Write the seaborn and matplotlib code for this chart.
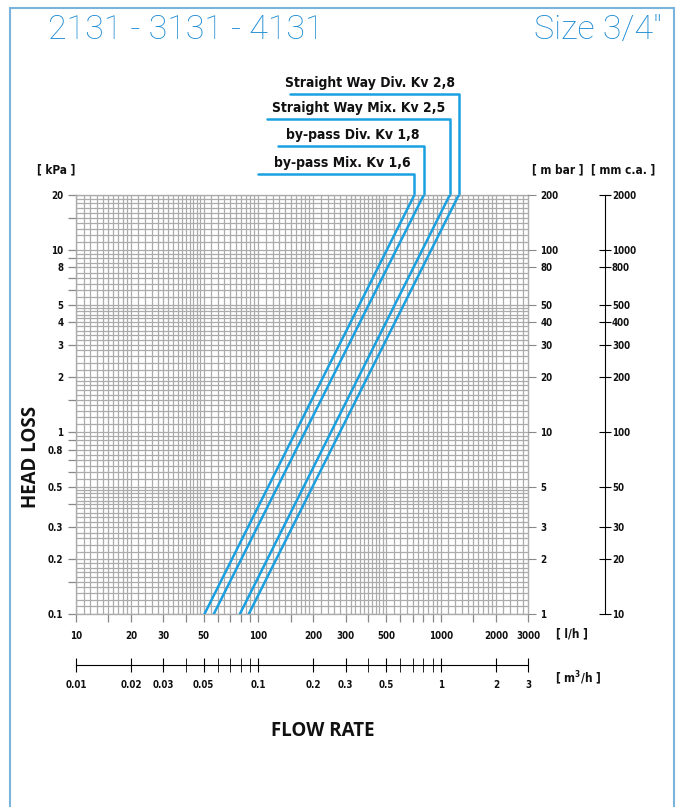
import numpy as np
import pandas as pd
import matplotlib
matplotlib.use("Agg")
import matplotlib.pyplot as plt
import matplotlib.transforms as mtrans
from matplotlib.patches import Rectangle
from matplotlib.ticker import NullFormatter, NullLocator
import seaborn as sns

# data
kv_labels = ["by-pass Mix. Kv 1,6", "by-pass Div. Kv 1,8",
             "Straight Way Mix. Kv 2,5", "Straight Way Div. Kv 2,8"]
flow_low = [50.6, 56.9, 79.1, 88.5]       # l/h at 0.1 kPa
flow_high = [715, 805, 1118, 1252]        # l/h at 20 kPa
head_ends = [0.1, 20]                     # kPa

kpa_ticks = [0.1, 0.2, 0.3, 0.5, 0.8, 1, 2, 3, 4, 5, 8, 10, 20]
kpa_minor = [0.15, 0.4, 0.6, 0.7, 0.9, 1.5, 6, 7, 9, 15]
mbar_ticks = [1, 2, 3, 5, 10, 20, 30, 40, 50, 80, 100, 200]
mmca_ticks = [10, 20, 30, 50, 100, 200, 300, 400, 500, 800, 1000, 2000]
lh_ticks = [10, 20, 30, 50, 100, 200, 300, 500, 1000, 2000, 3000]
lh_minor = [15, 40, 60, 70, 80, 90, 150, 400, 600, 700, 800, 900, 1500]
m3h_ticks = [0.01, 0.02, 0.03, 0.05, 0.1, 0.2, 0.3, 0.5, 1, 2, 3]
m3h_minor = [0.04, 0.06, 0.07, 0.08, 0.09, 0.4, 0.6, 0.7, 0.8, 0.9]

rows = []
for lab, lo, hi in zip(kv_labels, flow_low, flow_high):
    rows.append({"curve": lab, "flow": lo, "head": head_ends[0]})
    rows.append({"curve": lab, "flow": hi, "head": head_ends[1]})
df = pd.DataFrame(rows)

sns.set_style("white")
plt.rcParams["font.family"] = ["DejaVu Sans"]
plt.rcParams["font.stretch"] = "condensed"
plt.rcParams["font.weight"] = "bold"
plt.rcParams["xtick.labelsize"] = 7
plt.rcParams["ytick.labelsize"] = 7
plt.rcParams["xtick.color"] = "#111111"
plt.rcParams["ytick.color"] = "#111111"

BLUE = "#1aa0e0"
TBLUE = "#1b8ad2"
GRID = "#ababab"
W, H = 676, 807

fig = plt.figure(figsize=(W / 100, H / 100), dpi=100)
ax = fig.add_axes([76 / W, 1 - 614 / H, 452 / W, 419 / H])

# dense log paper grid
gx = []
for d in [10, 100, 1000]:
    gx += list(d * np.arange(1, 2, 0.1)) + list(d * np.arange(2, 5, 0.2)) + list(d * np.arange(5, 10, 0.5))
gx = [v for v in gx if 10 <= v <= 3000]
gy = []
for d in [0.1, 1, 10]:
    gy += list(d * np.arange(1, 2, 0.1)) + list(d * np.arange(2, 5, 0.2)) + list(d * np.arange(5, 10, 0.5))
gy = [v for v in gy if 0.1 <= v <= 20]
for v in gx:
    ax.axvline(v, color=GRID, lw=0.9, zorder=1)
for v in gy:
    ax.axhline(v, color=GRID, lw=0.9, zorder=1)

sns.lineplot(data=df, x="flow", y="head", units="curve", estimator=None,
             color=BLUE, lw=1.8, ax=ax, zorder=3, legend=False)

ax.set_xscale("log")
ax.set_yscale("log")
ax.set_xlim(10, 3000)
ax.set_ylim(0.1, 20)
for s in ax.spines.values():
    s.set_color(GRID)
    s.set_linewidth(1)
ax.set_xlabel("")
ax.set_ylabel("")

ax.tick_params(which="both", direction="out", color="#888888", width=0.9, length=6)
ax.tick_params(axis="y", which="major", pad=3)
ax.tick_params(axis="x", which="major", pad=6)
ax.set_xticks(lh_ticks)
ax.set_xticklabels([str(v) for v in lh_ticks])
ax.set_xticks(lh_minor, minor=True)
ax.set_yticks(kpa_ticks)
ax.set_yticklabels([f"{v:g}" for v in kpa_ticks])
ax.set_yticks(kpa_minor, minor=True)
ax.xaxis.set_minor_formatter(NullFormatter())
ax.yaxis.set_minor_formatter(NullFormatter())

# m bar axis (right)
ax2 = ax.twinx()
ax2.set_yscale("log")
ax2.set_ylim(1, 200)
ax2.tick_params(direction="out", length=6, color="#888888", pad=3)
ax2.set_yticks(mbar_ticks)
ax2.set_yticklabels([str(v) for v in mbar_ticks])
ax2.yaxis.set_minor_locator(NullLocator())
for s in ax2.spines.values():
    s.set_visible(False)

# mm c.a. axis
ax3 = ax.twinx()
ax3.set_yscale("log")
ax3.set_ylim(10, 2000)
for k, s in ax3.spines.items():
    s.set_visible(k == "right")
ax3.spines["right"].set_position(("axes", (605 - 76) / 452))
ax3.spines["right"].set_color("black")
ax3.tick_params(direction="inout", length=8, color="black", pad=1)
ax3.set_yticks(mmca_ticks)
ax3.set_yticklabels([str(v) for v in mmca_ticks])
ax3.yaxis.set_minor_locator(NullLocator())

# m3/h axis
ax4 = ax.twiny()
ax4.set_xscale("log")
ax4.set_xlim(0.01, 3)
ax4.xaxis.set_ticks_position("bottom")
ax4.xaxis.set_label_position("bottom")
for k, s in ax4.spines.items():
    s.set_visible(k == "bottom")
ax4.spines["bottom"].set_position(("axes", -(665 - 614) / 419))
ax4.spines["bottom"].set_color("black")
ax4.tick_params(which="both", direction="inout", length=10, color="black", pad=6)
ax4.set_xticks(m3h_ticks)
ax4.set_xticklabels([f"{v:g}" for v in m3h_ticks])
ax4.set_xticks(m3h_minor, minor=True)
ax4.xaxis.set_minor_formatter(NullFormatter())

# curve label connectors
blend = mtrans.blended_transform_factory(ax.transData, ax.transAxes)
label_y = [1.050, 1.117, 1.181, 1.241]
label_left = [99, 128, 111, 149]
for lab, hi, yl, xl in zip(kv_labels, flow_high, label_y, label_left):
    ax.plot([xl, hi, hi], [yl, yl, 1.0], color=BLUE, lw=1.8, transform=blend, clip_on=False)
    ax.annotate(lab, xy=(hi, yl), xycoords=blend, xytext=(-3, 3), textcoords="offset points",
                ha="right", va="bottom", fontsize=10, color="#111111")

def ftext(px, py, s, **kw):
    fig.text(px / W, 1 - py / H, s, **kw)

lab_kw = dict(fontsize=8.5, color="#111111", va="center")
ftext(56, 170, "[ kPa ]", ha="center", **lab_kw)
ftext(558, 170, "[ m bar ]", ha="center", **lab_kw)
ftext(623, 170, "[ mm c.a. ]", ha="center", **lab_kw)
ftext(572, 634, "[ l/h ]", ha="center", **lab_kw)
ftext(578, 678, "[ m$^3$/h ]", ha="center", **lab_kw)

ftext(323, 731, "FLOW RATE", ha="center", va="center", fontsize=13.5,
      family=["Open Sans", "DejaVu Sans"], stretch="normal", color="#111111")
ftext(31, 457, "HEAD LOSS", ha="center", va="center", rotation=90, fontsize=13.5,
      family=["Open Sans", "DejaVu Sans"], stretch="normal", color="#111111")

title_kw = dict(va="center", fontsize=24.5, family=["Roboto", "DejaVu Sans"],
                fontweight="light", stretch="normal", color=TBLUE)
ftext(48, 30, "2131 - 3131 - 4131", ha="left", **title_kw)
ftext(662, 30, "Size 3/4\"", ha="right", **title_kw)

# page frame
fig.patches.append(Rectangle((10 / W, -0.1), 664 / W, 1.1 - 8 / H, transform=fig.transFigure,
                             fill=False, edgecolor="#7ab4dc", lw=1.5))

fig.savefig("out.png", dpi=100)
